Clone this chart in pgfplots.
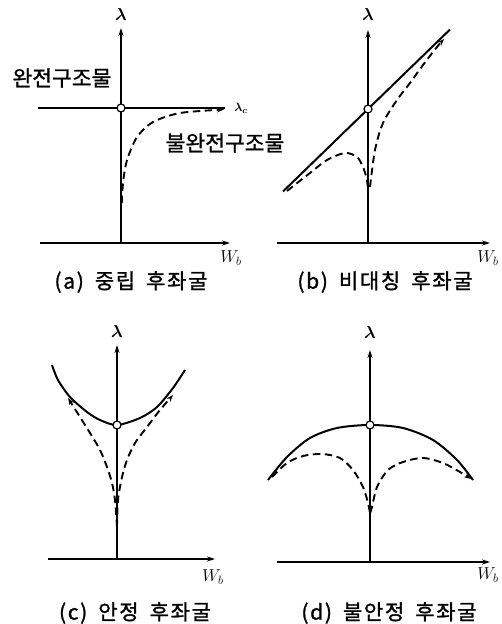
\documentclass[border=0pt]{standalone}
\usepackage{amsmath}
\usepackage{fontspec}
\setmainfont{Liberation Serif}
\newfontfamily\cjk[FakeBold=1.2]{Noto Sans CJK KR}
\newfontfamily\cjkcap[LetterSpace=8,FakeBold=1.2]{Noto Sans CJK KR}
\usepackage{pgfplots}
\pgfplotsset{compat=1.18}
\usetikzlibrary{arrows.meta}

\pgfplotsset{
  panel/.style={hide axis, x=1pt, y=1pt, clip=false, anchor=origin,
    xmin=-110, xmax=125, ymin=-60, ymax=235},
  axisline/.style={black, line width=1.3pt, -{Stealth[length=8pt,width=5pt]}},
  mainpath/.style={black, line width=2pt},
  pert/.style={black, line width=1.9pt, dash pattern=on 7.5pt off 4.5pt, smooth},
  tipend/.style={-{Stealth[length=7pt,width=5pt]}},
  bif/.style={only marks, mark=*, mark size=4pt,
    mark options={fill=white, draw=black, line width=1.2pt}},
}
\newcommand{\lam}{\fontsize{19}{20}\selectfont$\boldsymbol{\lambda}$}
\newcommand{\wb}{\fontsize{18}{19}\selectfont$W_b$}
\newcommand{\lbl}{\fontsize{21.5}{23}\selectfont\cjk}
% caption: "(x)  word  word"
\newcommand{\panelcap}[3]{\fontsize{21}{23}\selectfont
  {\cjkcap(#1)}\hspace{11pt}{\cjkcap #2}\hspace{11pt}{\cjkcap #3}}

\begin{document}
\begin{tikzpicture}
\useasboundingbox (0,0) rectangle (501pt,624pt);

% (a) neutral post-buckling
\begin{axis}[panel, at={(121pt,381pt)}]
  \addplot[axisline] coordinates {(-81,0) (109,0)};
  \addplot[axisline] coordinates {(0,0) (0,215)};
  \addplot[mainpath, line width=2.6pt] coordinates {(-83,135) (104,135)};
  \addplot[pert, tipend] coordinates {(1,40) (1,48) (3,68) (6,83) (11,96) (16,106)
    (24,115) (32,121) (44,126) (59,130) (79,132) (103,133.5)};
  \addplot[bif] coordinates {(0,135)};
  \node at (axis cs:0,228) {\lam};
  \node at (axis cs:110,-15) {\wb};
  \node at (axis cs:120,135) {\fontsize{13}{14}\selectfont$\boldsymbol{\lambda}_{\boldsymbol{c}}$};
  \node at (axis cs:-59,165) {\lbl 완전구조물};
  \node at (axis cs:104,100) {\lbl 불완전구조물};
  \node at (axis cs:10,-39) {\panelcap{a}{중립}{후좌굴}};
\end{axis}

% (b) asymmetric post-buckling
\begin{axis}[panel, at={(368pt,381pt)}]
  \addplot[axisline] coordinates {(-91,0) (122,0)};
  \addplot[axisline] coordinates {(0,0) (0,213)};
  \addplot[mainpath] coordinates {(-85,51.5) (82,213.5)};
  \addplot[pert] coordinates {(-81,52) (-58,70) (-41,83) (-23,90) (-11,86)
    (-5,76) (-1.5,65) (0,55)};
  \addplot[pert, tipend] coordinates {(2,56) (7,93) (15,120) (29,143) (42,160)
    (55,178) (69,196) (76,204)};
  \addplot[bif] coordinates {(0,134)};
  \node at (axis cs:0,228) {\lam};
  \node at (axis cs:120,-15) {\wb};
  \node at (axis cs:17,-39) {\panelcap{b}{비대칭}{후좌굴}};
\end{axis}

% (c) stable symmetric post-buckling
\begin{axis}[panel, at={(117pt,65pt)}]
  \addplot[axisline] coordinates {(-69,0) (98,0)};
  \addplot[axisline] coordinates {(0,0) (0,214)};
  \addplot[mainpath, smooth] coordinates {(-65,194) (-59,179) (-47,162) (-30,147)
    (-17,139) (0,134) (23,141) (40,152) (56,171) (68,189)};
  \addplot[pert, tipend] coordinates {(0,32) (-2,59) (-5,76) (-10,92) (-17,109)
    (-27,126) (-37,142) (-49,161)};
  \addplot[pert, tipend] coordinates {(0,32) (1,59) (5,82) (10,99) (18,116)
    (30,132) (43,149) (56,164)};
  \addplot[bif] coordinates {(0,134)};
  \node at (axis cs:0,227) {\lam};
  \node at (axis cs:96,-18) {\wb};
  \node at (axis cs:18,-54) {\panelcap{c}{안정}{후좌굴}};
\end{axis}

% (d) unstable symmetric post-buckling
\begin{axis}[panel, at={(370pt,62pt)}]
  \addplot[axisline] coordinates {(-93,0) (120,0)};
  \addplot[axisline] coordinates {(0,0) (0,212)};
  \addplot[mainpath, smooth] coordinates {(-102,82) (-83,105) (-60,124) (-33,134)
    (0,137) (33,134) (63,122) (87,102) (103,82)};
  \addplot[pert] coordinates {(-98,85) (-83,99) (-67,106) (-48,108) (-30,104)
    (-17,92) (-7,75) (-2,59) (0,49)};
  \addplot[pert, tipend] coordinates {(0,49) (2,55) (7,75) (18,92) (33,100)
    (53,104) (73,99) (90,90) (101,83)};
  \addplot[bif] coordinates {(0,137)};
  \node at (axis cs:0,229) {\lam};
  \node at (axis cs:118,-13) {\wb};
  \node at (axis cs:19,-51) {\panelcap{d}{불안정}{후좌굴}};
\end{axis}
\end{tikzpicture}
\end{document}
